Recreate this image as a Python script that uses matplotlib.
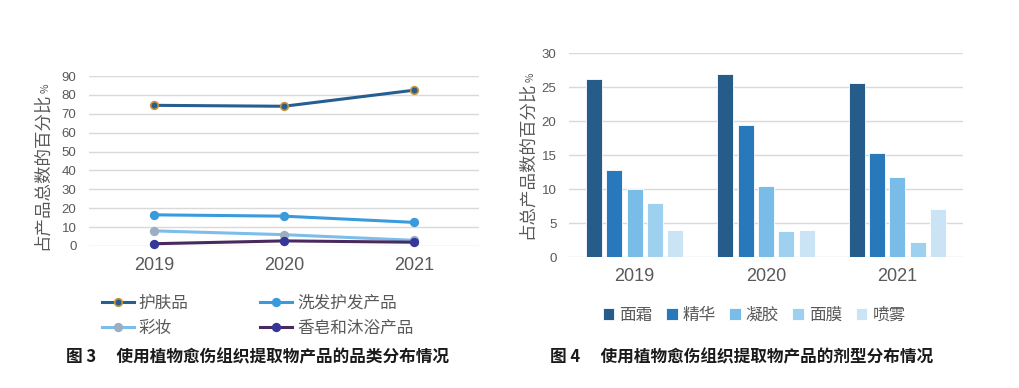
import matplotlib
matplotlib.use("Agg")
import matplotlib.pyplot as plt
import numpy as np

plt.rcParams["font.family"] = ["Liberation Sans", "Noto Sans CJK SC", "DejaVu Sans"]

years = ["2019", "2020", "2021"]

# Fig 3: category distribution (%)
line_names = ["护肤品", "洗发护发产品", "彩妆", "香皂和沐浴产品"]
skin_care = [74.5, 74, 82.5]
hair_care = [16.5, 15.8, 12.5]
makeup = [8, 6, 3]
soap_bath = [1.2, 2.7, 2]

# Fig 4: dosage form distribution (%)
bar_names = ["面霜", "精华", "凝胶", "面膜", "喷雾"]
cream = [26.2, 27.0, 25.7]
essence = [12.9, 19.5, 15.3]
gel = [10.0, 10.5, 11.8]
mask = [8.0, 3.8, 2.3]
spray = [4.0, 4.0, 7.1]

GRID = "#D9D9D9"
TXT = "#595959"
CJK = ["Noto Sans CJK SC", "DejaVu Sans"]

fig = plt.figure(figsize=(10.2, 3.88), dpi=100)


def style_axes(ax):
    for s in ax.spines.values():
        s.set_visible(False)
    ax.grid(axis="y", color=GRID, linewidth=1.0)
    ax.set_axisbelow(True)
    ax.tick_params(axis="both", length=0, colors=TXT)
    ax.tick_params(axis="y", labelsize=9.5, pad=9)
    ax.tick_params(axis="x", labelsize=13, pad=8)


def ylabel(xf, yf_text, yf_pct, text):
    # the "%" sign is set smaller than the rest, as in the original
    fig.text(xf, yf_text, text, family=CJK, fontsize=12.6, color=TXT,
             rotation=90, ha="center", va="center")
    fig.text(xf + 0.004, yf_pct, "%", family=CJK, fontsize=7.5, color=TXT,
             rotation=90, ha="center", va="center")


# ---- left: line chart ----
ax1 = fig.add_axes([0.0873, 0.366, 0.3823, 0.438])
x = np.arange(len(years)) + 0.5
series = [
    (skin_care, "#255E91", "#255E91", "#C8943C"),
    (hair_care, "#3A9BDC", "#3A9BDC", "#3A9BDC"),
    (makeup, "#7CBDE9", "#9AAFC4", "#9AAFC4"),
    (soap_bath, "#4A2A5E", "#37379A", "#37379A"),
]
handles = []
for (vals, lc, mfc, mec), name in zip(series, line_names):
    h, = ax1.plot(x, vals, color=lc, linewidth=2.2, marker="o", markersize=5.5,
                  markerfacecolor=mfc, markeredgecolor=mec, markeredgewidth=1.2,
                  label=name, clip_on=False)
    handles.append(h)
ax1.set_xlim(0, 3)
ax1.set_ylim(0, 90)
ax1.set_yticks(range(0, 91, 10))
ax1.set_xticks(x)
ax1.set_xticklabels(years)
style_axes(ax1)
ylabel(0.041, 0.559, 0.773, "占产品总数的百分比")
# legend fills column-wise, reorder so rows read like the original
order = [0, 2, 1, 3]
leg1 = ax1.legend([handles[i] for i in order], [line_names[i] for i in order],
                  loc="upper left", bbox_to_anchor=(-0.005, -0.2), ncol=2,
                  frameon=False, prop={"family": CJK, "size": 12},
                  handlelength=1.9, handletextpad=0.3, columnspacing=4.3,
                  labelspacing=0.45)
for t in leg1.get_texts():
    t.set_color(TXT)

fig.text(0.2529, 0.08, "图 3　 使用植物愈伤组织提取物产品的品类分布情况",
         family=CJK, fontsize=12, fontweight="bold", ha="center", va="center",
         color="#1a1a1a")

# ---- right: grouped bars ----
ax2 = fig.add_axes([0.5578, 0.337, 0.3863, 0.5256])
bar_vals = [cream, essence, gel, mask, spray]
bar_colors = ["#255C89", "#2779BB", "#79BCE7", "#9ED0EF", "#CAE3F5"]
slot = 0.155
width = 0.122
for i, (vals, c, name) in enumerate(zip(bar_vals, bar_colors, bar_names)):
    ax2.bar(x + (i - 2) * slot, vals, width=width, color=c,
            edgecolor="white", linewidth=0.6, label=name)
ax2.set_xlim(0, 3)
ax2.set_ylim(0, 30)
ax2.set_yticks(range(0, 31, 5))
ax2.set_xticks(x)
ax2.set_xticklabels(years)
style_axes(ax2)
ylabel(0.5165, 0.588, 0.8015, "占总产品数的百分比")
leg2 = ax2.legend(loc="upper center", bbox_to_anchor=(0.47, -0.17), ncol=5,
                  frameon=False, prop={"family": CJK, "size": 12},
                  handlelength=0.7, handleheight=0.7, handletextpad=0.3,
                  columnspacing=0.8)
for t in leg2.get_texts():
    t.set_color(TXT)

fig.text(0.7275, 0.08, "图 4　 使用植物愈伤组织提取物产品的剂型分布情况",
         family=CJK, fontsize=12, fontweight="bold", ha="center", va="center",
         color="#1a1a1a")

fig.savefig("out.png", dpi=100, facecolor="white")
